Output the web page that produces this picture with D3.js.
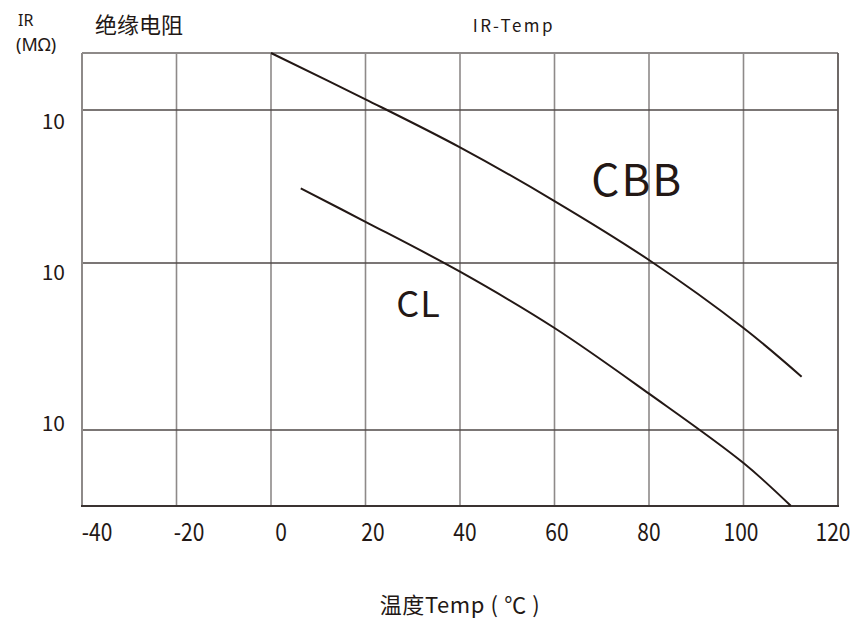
<!DOCTYPE html>
<html>
<head>
<meta charset="utf-8">
<script src="https://cdn.jsdelivr.net/npm/d3@7"></script>
<style>
  html, body { margin: 0; padding: 0; background: #fff; }
  svg { display: block; }
  text { font-family: "Noto Sans CJK SC", "Noto Sans", sans-serif; fill: #231815; }
</style>
</head>
<body>
<svg id="chart" width="858" height="619"></svg>
<script>
// ---- data ----
const xTicks = [-40, -20, 0, 20, 40, 60, 80, 100, 120];
const xTickLabels = ["-40", "-20", "0", "20", "40", "60", "80", "100", "120"];
const yTicks = [1e3, 1e4, 1e5];
const yTickLabels = ["10", "10", "10"];
const cbbTemp = [0, 20, 40, 60, 80, 100, 112.3];
const cbbIR = [235800, 117500, 57000, 25400, 10460, 4081, 2085];
const clTemp = [6.3, 20, 40, 60, 80, 100, 110];
const clIR = [30700, 18600, 8870, 4080, 1650, 634, 352];

const svg = d3.select("#chart");
const W = 858, H = 619;
svg.append("rect").attr("width", W).attr("height", H).attr("fill", "#fff");

const x = d3.scaleLinear().domain([-40, 120]).range([82, 838]);
const xLab = d3.scaleLinear().domain([-40, 120]).range([97, 833]);
const y = d3.scaleLog().domain([351, 1e3, 1e4, 1e5, 235800]).range([506, 430, 263, 110, 53]);
const yLab = d3.scaleLog().domain([1e3, 1e5]).range([423, 121]);

const yMin = 351, yMax = 235800;
const g = svg.append("g");

// vertical grid (inner)
g.selectAll(".vg").data(xTicks.slice(1, -1)).enter().append("line")
  .attr("x1", d => x(d)).attr("x2", d => x(d))
  .attr("y1", y(yMax)).attr("y2", y(yMin))
  .attr("stroke", "#8e8a89").attr("stroke-width", 1.6);

// horizontal grid
g.selectAll(".hg").data(yTicks).enter().append("line")
  .attr("x1", x(-40)).attr("x2", x(120))
  .attr("y1", d => y(d)).attr("y2", d => y(d))
  .attr("stroke", "#4f4947").attr("stroke-width", 1.5);

// frame
g.append("line").attr("x1", x(-40)).attr("x2", x(120)).attr("y1", y(yMax)).attr("y2", y(yMax))
  .attr("stroke", "#8e8a89").attr("stroke-width", 2);
g.append("line").attr("x1", x(-40)).attr("x2", x(-40)).attr("y1", y(yMax)).attr("y2", y(yMin))
  .attr("stroke", "#8e8a89").attr("stroke-width", 2);
g.append("line").attr("x1", x(120)).attr("x2", x(120)).attr("y1", y(yMax)).attr("y2", y(yMin))
  .attr("stroke", "#5f5957").attr("stroke-width", 1.8);
g.append("line").attr("x1", x(-40) - 1).attr("x2", x(120) + 1).attr("y1", y(yMin)).attr("y2", y(yMin))
  .attr("stroke", "#3a3331").attr("stroke-width", 2);

// curves
const line = d3.line().x(d => x(d[0])).y(d => y(d[1])).curve(d3.curveCatmullRom.alpha(0.5));
const cbb = cbbTemp.map((t, i) => [t, cbbIR[i]]);
const cl = clTemp.map((t, i) => [t, clIR[i]]);
[cbb, cl].forEach(s => {
  g.append("path").attr("d", line(s)).attr("fill", "none")
    .attr("stroke", "#231815").attr("stroke-width", 2);
});

// x tick labels (tall, narrow)
g.selectAll(".xl").data(xTicks).enter().append("text")
  .attr("transform", d => `translate(${xLab(d)},541) scale(0.84,1)`)
  .attr("text-anchor", "middle").attr("font-size", 25)
  .text((d, i) => xTickLabels[i]);

// y tick labels
g.selectAll(".yl").data(yTicks).enter().append("text")
  .attr("x", 65).attr("y", d => yLab(d) + 8)
  .attr("text-anchor", "end").attr("font-size", 21)
  .text((d, i) => yTickLabels[i]);

// titles & labels
svg.append("text").attr("x", 18).attr("y", 26).attr("font-size", 16)
  .style("font-family", "'Noto Sans', sans-serif").text("IR");
svg.append("text").attr("x", 16).attr("y", 51).attr("font-size", 18)
  .style("font-family", "'Noto Sans', sans-serif").text("(MΩ)");
svg.append("text").attr("x", 95).attr("y", 33).attr("font-size", 22).text("绝缘电阻");
svg.append("text").attr("x", 514).attr("y", 32).attr("font-size", 17)
  .attr("text-anchor", "middle").attr("letter-spacing", 2.5).text("IR-Temp");
svg.append("text").attr("x", 460).attr("y", 613).attr("font-size", 22)
  .attr("text-anchor", "middle").attr("letter-spacing", 0.6).text("温度Temp ( ℃ )");
svg.append("text").attr("x", x(67.8)).attr("y", 196).attr("font-size", 44).attr("letter-spacing", 2).text("CBB");
svg.append("text").attr("x", x(26.5)).attr("y", 317).attr("font-size", 36).attr("letter-spacing", 1).text("CL");
</script>
</body>
</html>
